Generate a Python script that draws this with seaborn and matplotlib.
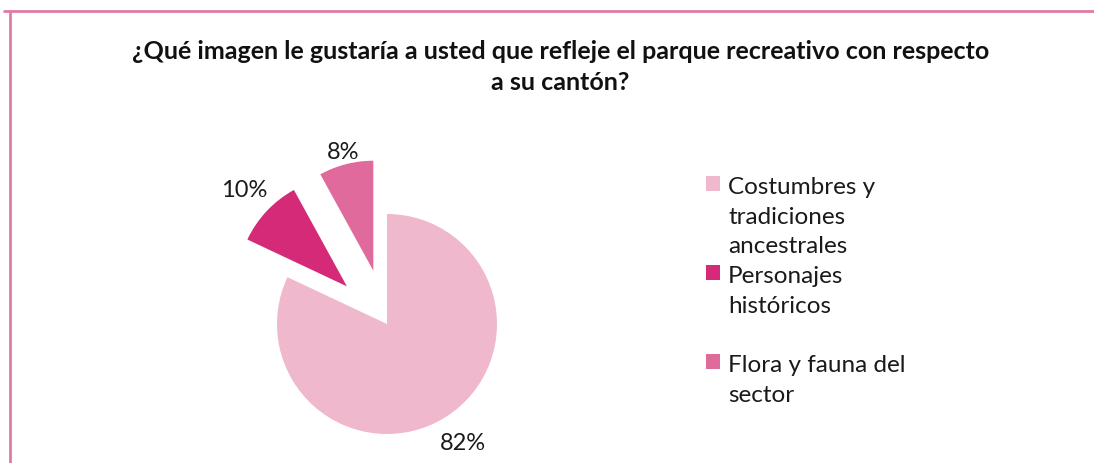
import matplotlib
matplotlib.use("Agg")
import matplotlib.pyplot as plt
import seaborn as sns
import numpy as np
from matplotlib.lines import Line2D

# datos del gráfico
categorias = ["Costumbres y\ntradiciones\nancestrales", "Personajes\nhistóricos", "Flora y fauna del\nsector"]
porcentajes = [82, 10, 8]
colores = ["#F0B8CC", "#D42A78", "#E06A9C"]
titulo = "¿Qué imagen le gustaría a usted que refleje el parque recreativo con respecto\na su cantón?"

sns.set_theme(style="white")
plt.rcParams["font.family"] = ["Lato", "DejaVu Sans"]

fig = plt.figure(figsize=(10.94, 4.64), dpi=100)

# marco rosa (solo arriba e izquierda)
fig.add_artist(Line2D([4 / 1094, 1], [1 - 12 / 464, 1 - 12 / 464], color="#E07BA8", lw=2))
fig.add_artist(Line2D([9.5 / 1094, 9.5 / 1094], [0, 1 - 12 / 464], color="#E07BA8", lw=2))

fig.text(0.512, 1 - 67 / 464, titulo, ha="center", va="center", fontsize=18,
         fontweight="bold", linespacing=1.4, color="#111111")

# ejes del pie: centro en (387, 325) px, radio 110 px
ax = fig.add_axes([200 / 1094, 0, 400 / 1094, 334 / 464])

wedges, textos, pcts = ax.pie(
    porcentajes, colors=colores, startangle=90, counterclock=False,
    explode=[0, 0.5, 0.5], radius=1, autopct="%d%%", pctdistance=1.28,
    textprops={"fontsize": 17, "color": "#1a1a1a"},
    wedgeprops={"linewidth": 0},
)
ax.set_xlim(-187 / 110, 213 / 110)
ax.set_ylim(-139 / 110, 195 / 110)
ax.axis("off")

# la etiqueta del 8% queda más cerca de su sector
w = wedges[2]
mid = np.deg2rad((w.theta1 + w.theta2) / 2)
pcts[2].set_position((w.center[0] + 1.12 * np.cos(mid), w.center[1] + 1.12 * np.sin(mid)))

# etiquetas de leyenda con el mismo alto (como en Excel)
etiquetas = [c + "\n " * (2 - c.count("\n")) for c in categorias]
leg = ax.legend(wedges, etiquetas, loc="upper left", bbox_to_anchor=(694 / 1094, 1 - 165 / 464),
                bbox_transform=fig.transFigure, frameon=False, fontsize=17.5, borderpad=0,
                handlelength=0.55, handleheight=0.55, handletextpad=0.35, labelspacing=0.37)
for t in leg.get_texts():
    t.set_linespacing(1.5)
    t.set_color("#1a1a1a")
for col in leg._legend_handle_box.get_children():
    for fila in col.get_children():
        fila.align = "top"

fig.savefig("out.png", dpi=100)
